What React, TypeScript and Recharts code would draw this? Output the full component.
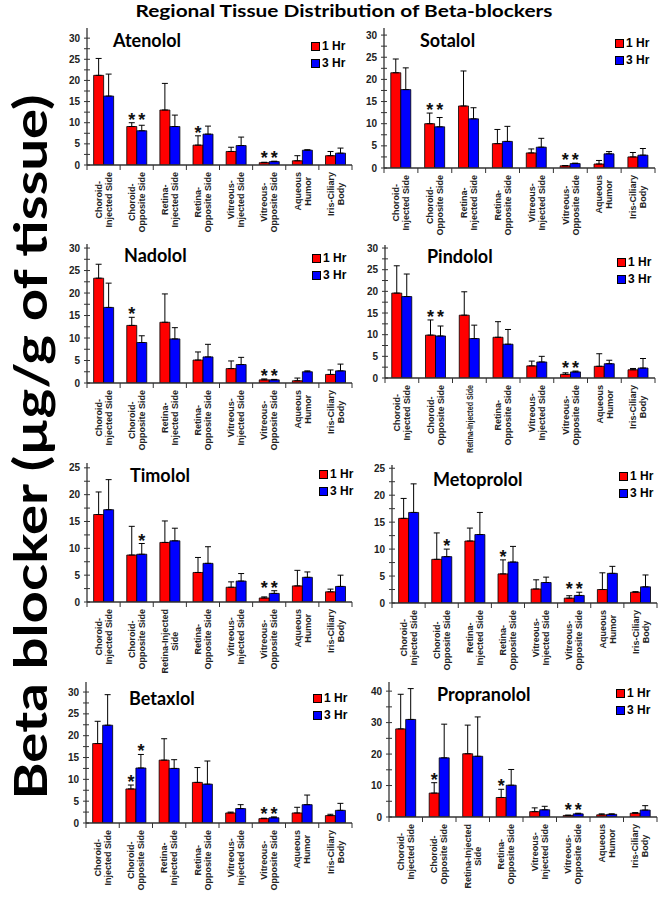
import React from 'react';
import { BarChart, Bar, XAxis, YAxis, ErrorBar, LabelList, Legend } from 'recharts';

const categories = [
  'Choroid-Injected Side',
  'Choroid-Opposite Side',
  'Retina-Injected Side',
  'Retina-Opposite Side',
  'Vitreous-Injected Side',
  'Vitreous-Opposite Side',
  'Aqueous Humor',
  'Iris-Ciliary Body',
];

const labelsStd = [
  ['Choroid-', 'Injected Side'],
  ['Choroid-', 'Opposite Side'],
  ['Retina-', 'Injected Side'],
  ['Retina-', 'Opposite Side'],
  ['Vitreous-', 'Injected Side'],
  ['Vitreous-', 'Opposite Side'],
  ['Aqueous', 'Humor'],
  ['Iris-Ciliary', 'Body'],
];
const labelsRetinaOneLine = labelsStd.map((l, i) => (i === 2 ? ['Retina-Injected Side'] : l));
const labelsRetinaWrap = labelsStd.map((l, i) => (i === 2 ? ['Retina-Injected', 'Side'] : l));

const seriesNames = ['1 Hr', '3 Hr'];

// values (µg/g), upward error (SD), significance asterisks
const atenolol1h = [21.2, 9.1, 13.0, 4.7, 3.2, 0.55, 1.0, 2.2];
const atenolol1hErr = [4.0, 0.9, 6.3, 2.2, 1.0, 0.1, 1.2, 1.0];
const atenolol3h = [16.3, 8.1, 9.1, 7.3, 4.6, 0.8, 3.5, 2.8];
const atenolol3hErr = [5.2, 1.3, 2.7, 1.9, 2.0, 0.1, 0.1, 1.2];
const atenolol1hStar = [0, 1, 0, 1, 0, 1, 0, 0];
const atenolol3hStar = [0, 1, 0, 0, 0, 1, 0, 0];

const sotalol1h = [21.5, 10.0, 14.0, 5.5, 3.4, 0.5, 0.9, 2.5];
const sotalol1hErr = [3.1, 2.4, 7.9, 3.2, 0.9, 0.05, 0.8, 1.0];
const sotalol3h = [17.7, 9.3, 11.1, 6.0, 4.7, 1.0, 3.2, 2.9];
const sotalol3hErr = [4.9, 2.1, 2.5, 3.4, 2.0, 0.1, 0.5, 1.5];
const sotalol1hStar = [0, 1, 0, 0, 0, 1, 0, 0];
const sotalol3hStar = [0, 1, 0, 0, 0, 1, 0, 0];

const nadolol1h = [23.3, 12.8, 13.5, 5.1, 3.2, 0.7, 0.5, 1.9];
const nadolol1hErr = [3.1, 1.8, 6.3, 1.8, 1.7, 0.2, 0.6, 1.0];
const nadolol3h = [16.8, 9.0, 9.8, 5.8, 4.1, 0.7, 2.5, 2.7];
const nadolol3hErr = [5.4, 1.5, 2.5, 2.8, 1.6, 0.1, 0.2, 1.5];
const nadolol1hStar = [0, 1, 0, 0, 0, 1, 0, 0];
const nadolol3hStar = [0, 0, 0, 0, 0, 1, 0, 0];

const pindolol1h = [19.6, 9.9, 14.5, 9.4, 2.8, 0.85, 2.7, 1.9];
const pindolol1hErr = [6.3, 3.5, 5.4, 3.6, 1.1, 0.35, 2.9, 0.3];
const pindolol3h = [18.8, 9.7, 9.1, 7.8, 3.7, 1.4, 3.3, 2.3];
const pindolol3hErr = [5.2, 2.3, 3.1, 3.4, 1.3, 0.2, 0.8, 2.2];
const pindolol1hStar = [0, 1, 0, 0, 0, 1, 0, 0];
const pindolol3hStar = [0, 1, 0, 0, 0, 1, 0, 0];

const timolol1h = [16.3, 8.75, 11.1, 5.5, 2.75, 0.75, 3.0, 1.9];
const timolol1hErr = [4.2, 5.35, 4.0, 2.8, 1.0, 0.2, 2.9, 0.5];
const timolol3h = [17.2, 8.9, 11.4, 7.2, 3.9, 1.6, 4.6, 2.9];
const timolol3hErr = [5.6, 2.0, 2.35, 3.1, 1.4, 0.5, 1.0, 2.1];
const timolol1hStar = [0, 0, 0, 0, 0, 1, 0, 0];
const timolol3hStar = [0, 1, 0, 0, 0, 1, 0, 0];

const metoprolol1h = [15.7, 8.1, 11.5, 5.4, 2.6, 0.9, 2.5, 2.0];
const metoprolol1hErr = [3.7, 4.9, 2.4, 2.6, 1.7, 0.45, 3.1, 0.1];
const metoprolol3h = [16.8, 8.6, 12.7, 7.6, 3.8, 1.4, 5.5, 3.0];
const metoprolol3hErr = [5.3, 1.4, 4.1, 2.9, 1.0, 0.6, 1.3, 2.2];
const metoprolol1hStar = [0, 0, 0, 1, 0, 1, 0, 0];
const metoprolol3hStar = [0, 1, 0, 0, 0, 1, 0, 0];

const betaxlol1h = [18.2, 7.8, 14.4, 9.3, 2.3, 1.0, 2.3, 1.7];
const betaxlol1hErr = [5.1, 0.9, 4.9, 3.4, 0.2, 0.1, 1.3, 0.3];
const betaxlol3h = [22.4, 12.6, 12.5, 8.9, 3.3, 1.2, 4.2, 2.9];
const betaxlol3hErr = [7.0, 3.1, 2.0, 5.3, 0.9, 0.2, 2.2, 1.6];
const betaxlol1hStar = [0, 1, 0, 0, 0, 1, 0, 0];
const betaxlol3hStar = [0, 1, 0, 0, 0, 1, 0, 0];

const propranolol1h = [28.0, 7.6, 20.1, 6.2, 1.7, 0.5, 0.7, 1.2];
const propranolol1hErr = [11.0, 3.3, 9.1, 2.6, 1.2, 0.1, 0.3, 0.2];
const propranolol3h = [31.0, 18.8, 19.3, 10.1, 2.3, 1.0, 0.85, 2.2];
const propranolol3hErr = [9.8, 10.7, 12.5, 5.0, 1.1, 0.2, 0.15, 1.4];
const propranolol1hStar = [0, 1, 0, 1, 0, 1, 0, 0];
const propranolol3hStar = [0, 0, 0, 0, 0, 1, 0, 0];

const RED = '#ff0000';
const BLUE = '#0000ff';
const AX = '#333';
const ARIAL = '"Liberation Sans", Arial, sans-serif';

const YW = 34;
const MT = 4;
const MR = 4;
const XH = 78;
const LABEL_MAX = 68;

// box = [left, top, right, bottom] of the plot frame on the page
const panels = [
  { name: 'Atenolol', v1: atenolol1h, e1: atenolol1hErr, v3: atenolol3h, e3: atenolol3hErr, s1: atenolol1hStar, s3: atenolol3hStar, labels: labelsStd, yMax: 32.4, tickTop: 30, major: 5, box: [87, 28, 352, 165], title: [26, 19], legend: [-41, 18] },
  { name: 'Sotalol', v1: sotalol1h, e1: sotalol1hErr, v3: sotalol3h, e3: sotalol3hErr, s1: sotalol1hStar, s3: sotalol3hStar, labels: labelsStd, yMax: 31.6, tickTop: 30, major: 5, box: [384, 28, 655, 168], title: [36, 19], legend: [-40, 15] },
  { name: 'Nadolol', v1: nadolol1h, e1: nadolol1hErr, v3: nadolol3h, e3: nadolol3hErr, s1: nadolol1hStar, s3: nadolol3hStar, labels: labelsStd, yMax: 30.9, tickTop: 30, major: 5, box: [87, 244, 352, 383], title: [37, 18], legend: [-40, 14] },
  { name: 'Pindolol', v1: pindolol1h, e1: pindolol1hErr, v3: pindolol3h, e3: pindolol3hErr, s1: pindolol1hStar, s3: pindolol3hStar, labels: labelsRetinaOneLine, yMax: 30.7, tickTop: 30, major: 5, box: [385, 245, 655, 378], title: [42, 18], legend: [-38, 17] },
  { name: 'Timolol', v1: timolol1h, e1: timolol1hErr, v3: timolol3h, e3: timolol3hErr, s1: timolol1hStar, s3: timolol3hStar, labels: labelsRetinaWrap, yMax: 25.9, tickTop: 25, major: 5, box: [87, 463, 352, 602], title: [43, 19], legend: [-33, 11] },
  { name: 'Metoprolol', v1: metoprolol1h, e1: metoprolol1hErr, v3: metoprolol3h, e3: metoprolol3hErr, s1: metoprolol1hStar, s3: metoprolol3hStar, labels: labelsStd, yMax: 25.6, tickTop: 25, major: 5, box: [392, 465, 657, 603], title: [41, 21], legend: [-38, 11] },
  { name: 'Betaxlol', v1: betaxlol1h, e1: betaxlol1hErr, v3: betaxlol3h, e3: betaxlol3hErr, s1: betaxlol1hStar, s3: betaxlol3hStar, labels: labelsStd, yMax: 32.3, tickTop: 30, major: 5, box: [86, 682, 352, 823], title: [43, 23], legend: [-39, 16] },
  { name: 'Propranolol', v1: propranolol1h, e1: propranolol1hErr, v3: propranolol3h, e3: propranolol3hErr, s1: propranolol1hStar, s3: propranolol3hStar, labels: labelsRetinaWrap, yMax: 42.9, tickTop: 40, major: 10, box: [389, 682, 657, 817], title: [48, 19], legend: [-41, 11] },
];

let ctx: CanvasRenderingContext2D | null = null;
function measure(s: string) {
  if (!ctx) {
    ctx = document.createElement('canvas').getContext('2d');
    if (ctx) ctx.font = 'bold 9px "Liberation Sans", Arial';
  }
  return ctx ? ctx.measureText(s).width : s.length * 5;
}

function CatTick(props: any) {
  const { x, y, payload, labels, band } = props;
  const idx = categories.indexOf(payload.value);
  const lines: string[] = labels[idx] || [String(payload.value)];
  const lens = lines.map(measure);
  const maxLen = Math.min(LABEL_MAX, Math.max(...lens));
  const cy = y + 7 + maxLen / 2;
  const n = lines.length;
  return (
    <g>
      <line x1={x - band / 2} x2={x - band / 2} y1={y} y2={y + 5} stroke={AX} strokeWidth={1} />
      {idx === categories.length - 1 && (
        <line x1={x + band / 2} x2={x + band / 2} y1={y} y2={y + 5} stroke={AX} strokeWidth={1} />
      )}
      <text
        transform={`translate(${x},${cy}) rotate(-90)`}
        textAnchor="middle"
        fontSize={9}
        fontWeight="bold"
        fontFamily={ARIAL}
        fill="#222"
      >
        {lines.map((ln, i) => (
          <tspan
            key={i}
            x={0}
            y={(i - (n - 1) / 2) * 10 + 3.2}
            {...(lens[i] > LABEL_MAX ? { textLength: LABEL_MAX, lengthAdjust: 'spacingAndGlyphs' } : {})}
          >
            {ln}
          </tspan>
        ))}
      </text>
    </g>
  );
}

function ValTick(props: any) {
  const { x, y, payload, major } = props;
  const v = payload.value;
  const isMajor = Math.abs(v / major - Math.round(v / major)) < 1e-6;
  return (
    <g>
      <line x1={x - 3} x2={x + 3} y1={y} y2={y} stroke={AX} strokeWidth={1} />
      {isMajor && (
        <text x={x - 7} y={y + 3.5} textAnchor="end" fontSize={10} fontWeight="bold" fontFamily={ARIAL} fill="#222">
          {v}
        </text>
      )}
    </g>
  );
}

function Star(props: any) {
  const { index, own, other } = props;
  const vb = props.viewBox || {};
  const x = props.x ?? vb.x;
  const y = props.y ?? vb.y;
  const width = props.width ?? vb.width;
  const height = props.height ?? vb.height;
  if (index == null || !own.s[index]) return null;
  const v = own.v[index];
  if (!v || !height) return null;
  const k = height / v;
  const base = y + height;
  let top = base - (v + own.e[index]) * k;
  if (other.s[index]) {
    const ot = base - (other.v[index] + other.e[index]) * k;
    if (Math.abs(ot - top) < 8) top = Math.min(top, ot);
  }
  return (
    <text x={x + width / 2} y={top - 7 + 10} textAnchor="middle" fontSize={18} fontWeight="bold" fontFamily={ARIAL} fill="#111">
      *
    </text>
  );
}

function LegendBox() {
  const colors = [RED, BLUE];
  return (
    <div>
      {seriesNames.map((s, i) => (
        <div key={s} style={{ display: 'flex', alignItems: 'center', height: 17 }}>
          <div style={{ width: 7, height: 7, background: colors[i], border: '1px solid #000' }} />
          <span style={{ marginLeft: 2, font: `bold 12px ${ARIAL}`, color: '#000' }}>{s}</span>
        </div>
      ))}
    </div>
  );
}

function Panel({ p }: { p: any }) {
  const [L, T, R, B] = p.box;
  const plotW = R - L;
  const plotH = B - T;
  const w = plotW + YW + MR;
  const h = plotH + MT + XH;
  const rows = categories.map((c, i) => ({
    cat: c,
    h1: p.v1[i],
    h1e: [0, p.e1[i]],
    h3: p.v3[i],
    h3e: [0, p.e3[i]],
  }));
  const ticks: number[] = [];
  for (let t = 0; t <= p.tickTop + 1e-9; t += p.major / 2) ticks.push(t);
  const s1 = { v: p.v1, e: p.e1, s: p.s1 };
  const s3 = { v: p.v3, e: p.e3, s: p.s3 };
  const band = plotW / categories.length;
  const axisLine = { stroke: AX, strokeWidth: 1.3 };

  return (
    <div style={{ position: 'absolute', left: L - YW, top: T - MT, width: w, height: h }}>
      <BarChart
        width={w}
        height={h}
        data={rows}
        margin={{ top: MT, right: MR, left: 0, bottom: 0 }}
        barCategoryGap="20%"
        barGap={0}
      >
        <XAxis
          dataKey="cat"
          height={XH}
          interval={0}
          tickLine={false}
          tickSize={0}
          tickMargin={0}
          axisLine={axisLine}
          tick={(tp: any) => <CatTick {...tp} labels={p.labels} band={band} />}
        />
        <XAxis xAxisId="top" dataKey="cat" orientation="top" height={0} tick={false} tickLine={false} axisLine={axisLine} />
        <YAxis
          width={YW}
          domain={[0, p.yMax]}
          ticks={ticks}
          interval={0}
          allowDataOverflow
          tickLine={false}
          tickSize={0}
          tickMargin={0}
          axisLine={axisLine}
          tick={(tp: any) => <ValTick {...tp} major={p.major} />}
        />
        <YAxis yAxisId="right" orientation="right" width={0} domain={[0, 1]} tick={false} tickLine={false} axisLine={axisLine} />
        <Legend
          layout="vertical"
          align="center"
          verticalAlign="middle"
          wrapperStyle={{ left: YW + plotW + p.legend[0], top: MT + p.legend[1] - 8.5, width: 50, height: 36 }}
          content={() => <LegendBox />}
        />
        <Bar dataKey="h1" name={seriesNames[0]} fill={RED} stroke="#000" strokeWidth={0.8} isAnimationActive={false}>
          <ErrorBar dataKey="h1e" width={3} stroke="#000" strokeWidth={1} direction="y" />
          <LabelList dataKey="h1" content={(lp: any) => <Star {...lp} own={s1} other={s3} />} />
        </Bar>
        <Bar dataKey="h3" name={seriesNames[1]} fill={BLUE} stroke="#000" strokeWidth={0.8} isAnimationActive={false}>
          <ErrorBar dataKey="h3e" width={3} stroke="#000" strokeWidth={1} direction="y" />
          <LabelList dataKey="h3" content={(lp: any) => <Star {...lp} own={s3} other={s1} />} />
        </Bar>
      </BarChart>
      <svg width={w} height={h} style={{ position: 'absolute', left: 0, top: 0, pointerEvents: 'none' }}>
        <text x={YW + p.title[0]} y={MT + p.title[1]} fontSize={18} fontWeight="bold" fontFamily="Lato, sans-serif" fill="#000">
          {p.name}
        </text>
      </svg>
    </div>
  );
}

export default function App() {
  return (
    <div style={{ position: 'absolute', left: 0, top: 0, width: 666, height: 899, background: '#fff', overflow: 'hidden' }}>
      <svg width={666} height={899} style={{ position: 'absolute', left: 0, top: 0 }}>
        <text x={344} y={17} textAnchor="middle" fontSize={17} fontWeight="bold" fontFamily="Lato, sans-serif" textLength={417} lengthAdjust="spacingAndGlyphs" fill="#000">
          Regional Tissue Distribution of Beta-blockers
        </text>
        <text
          transform="translate(47,447) rotate(-90)"
          textAnchor="middle"
          fontSize={46}
          fontWeight="bold"
          fontFamily="Lato, sans-serif"
          textLength={705}
          lengthAdjust="spacingAndGlyphs"
          fill="#000"
        >
          Beta blocker (µg/g of tissue)
        </text>
      </svg>
      {panels.map((p) => (
        <Panel key={p.name} p={p} />
      ))}
    </div>
  );
}
